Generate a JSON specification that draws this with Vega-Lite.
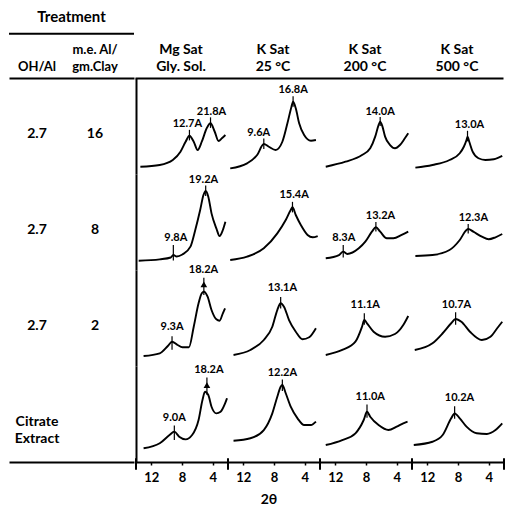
{
  "$schema": "https://vega.github.io/schema/vega-lite/v6.json",
  "padding": {"left": 8, "top": 0, "right": 0, "bottom": 0},
  "background": "white",
  "config": {
    "font": "Lato",
    "view": {"stroke": null},
    "concat": {"spacing": 0},
    "facet": {"spacing": 0},
    "text": {"font": "Lato", "fontWeight": "bold", "color": "black"},
    "axis": {"domainColor": "black", "tickColor": "black", "labelColor": "black", "grid": false}
  },
  "title": {"text": "2θ", "orient": "bottom", "anchor": "middle", "dx": 12, "fontSize": 14, "font": "Lato", "fontWeight": "bold", "offset": 9, "color": "black"},
  "spacing": 0,
  "vconcat": [
    {
      "spacing": 0,
      "hconcat": [
        {
          "width": 125,
          "height": 78,
          "layer": [
            {
              "data": {"values": [{"ln": "t", "s": "Treatment"}]},
              "mark": {"type": "text", "fontSize": 15},
              "encoding": {
                "y": {"field": "ln", "type": "nominal", "scale": {"type": "point", "domain": ["t", "line", "h1", "h2"], "padding": 0.835, "align": 0.61}, "axis": null},
                "text": {"field": "s"}
              }
            },
            {
              "data": {"values": [{"ln": "line"}]},
              "mark": {"type": "rule", "strokeWidth": 2, "color": "black"},
              "encoding": {"y": {"field": "ln", "type": "nominal"}}
            },
            {
              "data": {"values": [
                {"col": "OH/Al", "ln": "h2", "s": "OH/Al"},
                {"col": "me", "ln": "h1", "s": "m.e. Al/"},
                {"col": "me", "ln": "h2", "s": "gm.Clay"}
              ]},
              "mark": {"type": "text", "fontSize": 13},
              "encoding": {
                "x": {"field": "col", "type": "nominal", "scale": {"type": "point", "domain": ["OH/Al", "me"], "padding": 0.578, "align": 0.418}, "axis": {"orient": "bottom", "labels": false, "ticks": false, "title": null, "domain": true, "domainWidth": 2}},
                "y": {"field": "ln", "type": "nominal"},
                "text": {"field": "s"}
              }
            }
          ]
        },
        {
          "width": 368,
          "height": 78,
          "data": {"values": [
            {"c": "Mg", "ln": "h1", "s": "Mg Sat"},
            {"c": "Mg", "ln": "h2", "s": "Gly. Sol."},
            {"c": "K25", "ln": "h1", "s": "K Sat"},
            {"c": "K25", "ln": "h2", "s": "25 °C"},
            {"c": "K200", "ln": "h1", "s": "K Sat"},
            {"c": "K200", "ln": "h2", "s": "200 °C"},
            {"c": "K500", "ln": "h1", "s": "K Sat"},
            {"c": "K500", "ln": "h2", "s": "500 °C"}
          ]},
          "mark": {"type": "text", "fontSize": 14},
          "encoding": {
            "x": {"field": "c", "type": "nominal", "scale": {"type": "band", "domain": ["Mg", "K25", "K200", "K500"], "paddingInner": 0, "paddingOuter": 0}, "axis": {"orient": "bottom", "labels": false, "ticks": false, "title": null, "domainWidth": 2}},
            "y": {"field": "ln", "type": "nominal", "scale": {"type": "point", "domain": ["t", "line", "h1", "h2"], "padding": 0.835, "align": 0.61}, "axis": null},
            "text": {"field": "s"}
          }
        }
      ]
    },
    {
      "spacing": 0,
      "hconcat": [
        {
          "width": 125,
          "height": 384,
          "data": {"values": [
            {"t": "2.7/16", "col": "OH/Al", "s": "2.7"},
            {"t": "2.7/16", "col": "me", "s": "16"},
            {"t": "2.7/8", "col": "OH/Al", "s": "2.7"},
            {"t": "2.7/8", "col": "me", "s": "8"},
            {"t": "2.7/2", "col": "OH/Al", "s": "2.7"},
            {"t": "2.7/2", "col": "me", "s": "2"},
            {"t": "Citrate", "col": "OH/Al", "s": "Citrate\nExtract"}
          ]},
          "mark": {"type": "text", "fontSize": 14, "lineBreak": "\n", "lineHeight": 17},
          "encoding": {
            "x": {"field": "col", "type": "nominal", "scale": {"type": "point", "domain": ["OH/Al", "me"], "padding": 0.578, "align": 0.418}, "axis": {"orient": "bottom", "labels": false, "ticks": false, "title": null, "domainWidth": 2}},
            "y": {"field": "t", "type": "nominal", "bandPosition": 0.58, "scale": {"type": "band", "domain": ["2.7/16", "2.7/8", "2.7/2", "Citrate"], "paddingInner": 0, "paddingOuter": 0}, "axis": null},
            "text": {"field": "s"}
          }
        },
        {
          "bounds": "flush",
          "data": {"values": [
            {"t":"2.7/16","c":"Mg","k":"c","x":13.43,"y":7.6},
            {"t":"2.7/16","c":"Mg","k":"c","x":10.9,"y":9.4},
            {"t":"2.7/16","c":"Mg","k":"c","x":9.2,"y":14.6},
            {"t":"2.7/16","c":"Mg","k":"c","x":8.2,"y":23.2},
            {"t":"2.7/16","c":"Mg","k":"c","x":7.53,"y":33.6},
            {"t":"2.7/16","c":"Mg","k":"c","x":7.03,"y":39.9},
            {"t":"2.7/16","c":"Mg","k":"c","x":6.47,"y":33.6},
            {"t":"2.7/16","c":"Mg","k":"c","x":5.96,"y":25},
            {"t":"2.7/16","c":"Mg","k":"c","x":5.42,"y":33.6},
            {"t":"2.7/16","c":"Mg","k":"c","x":4.78,"y":47.6},
            {"t":"2.7/16","c":"Mg","k":"c","x":4.28,"y":52.8},
            {"t":"2.7/16","c":"Mg","k":"c","x":3.73,"y":44},
            {"t":"2.7/16","c":"Mg","k":"c","x":3.23,"y":34.4},
            {"t":"2.7/16","c":"Mg","k":"c","x":2.8,"y":37.2},
            {"t":"2.7/16","c":"Mg","k":"c","x":2.34,"y":40.6},
            {"t":"2.7/16","c":"K25","k":"c","x":13.71,"y":5.9},
            {"t":"2.7/16","c":"K25","k":"c","x":11.51,"y":11.1},
            {"t":"2.7/16","c":"K25","k":"c","x":10.2,"y":19.8},
            {"t":"2.7/16","c":"K25","k":"c","x":9.33,"y":31.25},
            {"t":"2.7/16","c":"K25","k":"c","x":8.67,"y":28.4},
            {"t":"2.7/16","c":"K25","k":"c","x":7.79,"y":25},
            {"t":"2.7/16","c":"K25","k":"c","x":6.91,"y":33.6},
            {"t":"2.7/16","c":"K25","k":"c","x":6.25,"y":52.8},
            {"t":"2.7/16","c":"K25","k":"c","x":5.72,"y":70.1},
            {"t":"2.7/16","c":"K25","k":"c","x":5.51,"y":75.3},
            {"t":"2.7/16","c":"K25","k":"c","x":5.16,"y":68.4},
            {"t":"2.7/16","c":"K25","k":"c","x":4.72,"y":52.8},
            {"t":"2.7/16","c":"K25","k":"c","x":4.07,"y":40.6},
            {"t":"2.7/16","c":"K25","k":"c","x":3.18,"y":34.7},
            {"t":"2.7/16","c":"K25","k":"c","x":2.53,"y":35.4},
            {"t":"2.7/16","c":"K200","k":"c","x":13.25,"y":7.6},
            {"t":"2.7/16","c":"K200","k":"c","x":10.67,"y":12.8},
            {"t":"2.7/16","c":"K200","k":"c","x":8.52,"y":19.8},
            {"t":"2.7/16","c":"K200","k":"c","x":7.45,"y":26.8},
            {"t":"2.7/16","c":"K200","k":"c","x":6.8,"y":38.9},
            {"t":"2.7/16","c":"K200","k":"c","x":6.36,"y":51},
            {"t":"2.7/16","c":"K200","k":"c","x":6.15,"y":54.5},
            {"t":"2.7/16","c":"K200","k":"c","x":5.85,"y":49.3},
            {"t":"2.7/16","c":"K200","k":"c","x":5.51,"y":38.9},
            {"t":"2.7/16","c":"K200","k":"c","x":4.86,"y":30.2},
            {"t":"2.7/16","c":"K200","k":"c","x":4.22,"y":26.8},
            {"t":"2.7/16","c":"K200","k":"c","x":3.57,"y":30.2},
            {"t":"2.7/16","c":"K200","k":"c","x":2.93,"y":37.2},
            {"t":"2.7/16","c":"K200","k":"c","x":2.49,"y":42.4},
            {"t":"2.7/16","c":"K500","k":"c","x":13.56,"y":6.6},
            {"t":"2.7/16","c":"K500","k":"c","x":11.33,"y":9.4},
            {"t":"2.7/16","c":"K500","k":"c","x":9.11,"y":14.6},
            {"t":"2.7/16","c":"K500","k":"c","x":7.77,"y":21.6},
            {"t":"2.7/16","c":"K500","k":"c","x":7.24,"y":28.4},
            {"t":"2.7/16","c":"K500","k":"c","x":6.89,"y":35.4},
            {"t":"2.7/16","c":"K500","k":"c","x":6.76,"y":38.9},
            {"t":"2.7/16","c":"K500","k":"c","x":6.53,"y":33.6},
            {"t":"2.7/16","c":"K500","k":"c","x":6.09,"y":23.2},
            {"t":"2.7/16","c":"K500","k":"c","x":5.33,"y":16.4},
            {"t":"2.7/16","c":"K500","k":"c","x":4.44,"y":14.6},
            {"t":"2.7/16","c":"K500","k":"c","x":3.33,"y":15.3},
            {"t":"2.7/16","c":"K500","k":"c","x":2.23,"y":18.8},

            {"t":"2.7/8","c":"Mg","k":"c","x":13.65,"y":9.7},
            {"t":"2.7/8","c":"Mg","k":"c","x":10.9,"y":11.1},
            {"t":"2.7/8","c":"Mg","k":"c","x":9.47,"y":13},
            {"t":"2.7/8","c":"Mg","k":"c","x":9.13,"y":15.6},
            {"t":"2.7/8","c":"Mg","k":"c","x":8.7,"y":14},
            {"t":"2.7/8","c":"Mg","k":"c","x":7.95,"y":16.1},
            {"t":"2.7/8","c":"Mg","k":"c","x":6.9,"y":24.3},
            {"t":"2.7/8","c":"Mg","k":"c","x":6.27,"y":41.7},
            {"t":"2.7/8","c":"Mg","k":"c","x":5.63,"y":62.5},
            {"t":"2.7/8","c":"Mg","k":"c","x":5.2,"y":78.1},
            {"t":"2.7/8","c":"Mg","k":"c","x":4.91,"y":82.3},
            {"t":"2.7/8","c":"Mg","k":"c","x":4.57,"y":76.4},
            {"t":"2.7/8","c":"Mg","k":"c","x":4.15,"y":59},
            {"t":"2.7/8","c":"Mg","k":"c","x":3.52,"y":43.4},
            {"t":"2.7/8","c":"Mg","k":"c","x":3.1,"y":35.4},
            {"t":"2.7/8","c":"Mg","k":"c","x":2.67,"y":41.7},
            {"t":"2.7/8","c":"Mg","k":"c","x":2.34,"y":50.3},
            {"t":"2.7/8","c":"K25","k":"c","x":13.71,"y":10.4},
            {"t":"2.7/8","c":"K25","k":"c","x":11.51,"y":13.9},
            {"t":"2.7/8","c":"K25","k":"c","x":9.33,"y":22.6},
            {"t":"2.7/8","c":"K25","k":"c","x":7.57,"y":38.2},
            {"t":"2.7/8","c":"K25","k":"c","x":6.47,"y":52.1},
            {"t":"2.7/8","c":"K25","k":"c","x":5.82,"y":62.5},
            {"t":"2.7/8","c":"K25","k":"c","x":5.59,"y":65.3},
            {"t":"2.7/8","c":"K25","k":"c","x":5.16,"y":57.3},
            {"t":"2.7/8","c":"K25","k":"c","x":4.5,"y":46.9},
            {"t":"2.7/8","c":"K25","k":"c","x":3.62,"y":36.5},
            {"t":"2.7/8","c":"K25","k":"c","x":2.96,"y":34.1},
            {"t":"2.7/8","c":"K25","k":"c","x":2.3,"y":35.4},
            {"t":"2.7/8","c":"K200","k":"c","x":13.25,"y":12.2},
            {"t":"2.7/8","c":"K200","k":"c","x":11.52,"y":15.6},
            {"t":"2.7/8","c":"K200","k":"c","x":10.97,"y":19.1},
            {"t":"2.7/8","c":"K200","k":"c","x":10.45,"y":16.7},
            {"t":"2.7/8","c":"K200","k":"c","x":8.94,"y":22.6},
            {"t":"2.7/8","c":"K200","k":"c","x":8.09,"y":29.5},
            {"t":"2.7/8","c":"K200","k":"c","x":7.23,"y":39.9},
            {"t":"2.7/8","c":"K200","k":"c","x":6.71,"y":44.5},
            {"t":"2.7/8","c":"K200","k":"c","x":6.15,"y":39.9},
            {"t":"2.7/8","c":"K200","k":"c","x":5.29,"y":33},
            {"t":"2.7/8","c":"K200","k":"c","x":4.43,"y":33},
            {"t":"2.7/8","c":"K200","k":"c","x":3.35,"y":36.5},
            {"t":"2.7/8","c":"K200","k":"c","x":2.49,"y":39.9},
            {"t":"2.7/8","c":"K500","k":"c","x":13.56,"y":14.6},
            {"t":"2.7/8","c":"K500","k":"c","x":11.33,"y":15.6},
            {"t":"2.7/8","c":"K500","k":"c","x":9.11,"y":20.8},
            {"t":"2.7/8","c":"K500","k":"c","x":7.77,"y":31.25},
            {"t":"2.7/8","c":"K500","k":"c","x":6.89,"y":41.7},
            {"t":"2.7/8","c":"K500","k":"c","x":6.67,"y":42.7},
            {"t":"2.7/8","c":"K500","k":"c","x":6,"y":39.9},
            {"t":"2.7/8","c":"K500","k":"c","x":4.89,"y":34.7},
            {"t":"2.7/8","c":"K500","k":"c","x":4,"y":32},
            {"t":"2.7/8","c":"K500","k":"c","x":3.11,"y":34.1},
            {"t":"2.7/8","c":"K500","k":"c","x":2.23,"y":37.5},

            {"t":"2.7/2","c":"Mg","k":"c","x":13.01,"y":10.4},
            {"t":"2.7/2","c":"Mg","k":"c","x":10.9,"y":13.2},
            {"t":"2.7/2","c":"Mg","k":"c","x":9.85,"y":20.8},
            {"t":"2.7/2","c":"Mg","k":"c","x":9.3,"y":25.3},
            {"t":"2.7/2","c":"Mg","k":"c","x":8.58,"y":21.9},
            {"t":"2.7/2","c":"Mg","k":"c","x":7.95,"y":19.5},
            {"t":"2.7/2","c":"Mg","k":"c","x":7.1,"y":19.5},
            {"t":"2.7/2","c":"Mg","k":"c","x":6.47,"y":40.9},
            {"t":"2.7/2","c":"Mg","k":"c","x":5.84,"y":65.3},
            {"t":"2.7/2","c":"Mg","k":"c","x":5.42,"y":75.7},
            {"t":"2.7/2","c":"Mg","k":"c","x":5.13,"y":77.4},
            {"t":"2.7/2","c":"Mg","k":"c","x":4.66,"y":72.2},
            {"t":"2.7/2","c":"Mg","k":"c","x":4.15,"y":58.3},
            {"t":"2.7/2","c":"Mg","k":"c","x":3.52,"y":48.6},
            {"t":"2.7/2","c":"Mg","k":"c","x":3.1,"y":47.2},
            {"t":"2.7/2","c":"Mg","k":"c","x":2.67,"y":54.9},
            {"t":"2.7/2","c":"Mg","k":"c","x":2.38,"y":60.1},
            {"t":"2.7/2","c":"K25","k":"c","x":13.28,"y":11.5},
            {"t":"2.7/2","c":"K25","k":"c","x":11.08,"y":16.7},
            {"t":"2.7/2","c":"K25","k":"c","x":9.33,"y":27.1},
            {"t":"2.7/2","c":"K25","k":"c","x":8.22,"y":40.9},
            {"t":"2.7/2","c":"K25","k":"c","x":7.57,"y":58.3},
            {"t":"2.7/2","c":"K25","k":"c","x":7.13,"y":65.3},
            {"t":"2.7/2","c":"K25","k":"c","x":6.7,"y":61.8},
            {"t":"2.7/2","c":"K25","k":"c","x":6.04,"y":47.9},
            {"t":"2.7/2","c":"K25","k":"c","x":5.16,"y":35.7},
            {"t":"2.7/2","c":"K25","k":"c","x":4.28,"y":27.8},
            {"t":"2.7/2","c":"K25","k":"c","x":3.41,"y":29.9},
            {"t":"2.7/2","c":"K25","k":"c","x":2.53,"y":39.3},
            {"t":"2.7/2","c":"K200","k":"c","x":13.25,"y":11.5},
            {"t":"2.7/2","c":"K200","k":"c","x":11.1,"y":16.7},
            {"t":"2.7/2","c":"K200","k":"c","x":9.38,"y":25.3},
            {"t":"2.7/2","c":"K200","k":"c","x":8.52,"y":40.9},
            {"t":"2.7/2","c":"K200","k":"c","x":8.22,"y":47.9},
            {"t":"2.7/2","c":"K200","k":"c","x":7.87,"y":44.5},
            {"t":"2.7/2","c":"K200","k":"c","x":7.01,"y":35.7},
            {"t":"2.7/2","c":"K200","k":"c","x":5.51,"y":30.5},
            {"t":"2.7/2","c":"K200","k":"c","x":4.22,"y":33.3},
            {"t":"2.7/2","c":"K200","k":"c","x":3.14,"y":42.7},
            {"t":"2.7/2","c":"K200","k":"c","x":2.49,"y":52.1},
            {"t":"2.7/2","c":"K500","k":"c","x":13.64,"y":16.7},
            {"t":"2.7/2","c":"K500","k":"c","x":11.33,"y":23.6},
            {"t":"2.7/2","c":"K500","k":"c","x":10,"y":34.1},
            {"t":"2.7/2","c":"K500","k":"c","x":8.89,"y":44.5},
            {"t":"2.7/2","c":"K500","k":"c","x":8.31,"y":49},
            {"t":"2.7/2","c":"K500","k":"c","x":7.56,"y":46.1},
            {"t":"2.7/2","c":"K500","k":"c","x":6.44,"y":35.7},
            {"t":"2.7/2","c":"K500","k":"c","x":4.89,"y":27.1},
            {"t":"2.7/2","c":"K500","k":"c","x":3.77,"y":30.5},
            {"t":"2.7/2","c":"K500","k":"c","x":2.89,"y":39.3},
            {"t":"2.7/2","c":"K500","k":"c","x":2.23,"y":46.1},

            {"t":"Citrate","c":"Mg","k":"c","x":13.01,"y":14.3},
            {"t":"Citrate","c":"Mg","k":"c","x":10.9,"y":19.5},
            {"t":"Citrate","c":"Mg","k":"c","x":9.63,"y":28.1},
            {"t":"Citrate","c":"Mg","k":"c","x":9,"y":31.6},
            {"t":"Citrate","c":"Mg","k":"c","x":8.37,"y":26.4},
            {"t":"Citrate","c":"Mg","k":"c","x":7.53,"y":23.6},
            {"t":"Citrate","c":"Mg","k":"c","x":6.68,"y":28.1},
            {"t":"Citrate","c":"Mg","k":"c","x":5.84,"y":43.75},
            {"t":"Citrate","c":"Mg","k":"c","x":5.33,"y":64.6},
            {"t":"Citrate","c":"Mg","k":"c","x":5,"y":73.2},
            {"t":"Citrate","c":"Mg","k":"c","x":4.57,"y":69.8},
            {"t":"Citrate","c":"Mg","k":"c","x":4.15,"y":57.6},
            {"t":"Citrate","c":"Mg","k":"c","x":3.52,"y":50.7},
            {"t":"Citrate","c":"Mg","k":"c","x":2.97,"y":52.4},
            {"t":"Citrate","c":"Mg","k":"c","x":2.38,"y":61.1},
            {"t":"Citrate","c":"Mg","k":"c","x":2.13,"y":66.4},
            {"t":"Citrate","c":"K25","k":"c","x":13.28,"y":22.2},
            {"t":"Citrate","c":"K25","k":"c","x":11.08,"y":24.7},
            {"t":"Citrate","c":"K25","k":"c","x":9.33,"y":33.3},
            {"t":"Citrate","c":"K25","k":"c","x":8.22,"y":50.7},
            {"t":"Citrate","c":"K25","k":"c","x":7.57,"y":68},
            {"t":"Citrate","c":"K25","k":"c","x":7.13,"y":78.4},
            {"t":"Citrate","c":"K25","k":"c","x":6.91,"y":80.2},
            {"t":"Citrate","c":"K25","k":"c","x":6.47,"y":71.6},
            {"t":"Citrate","c":"K25","k":"c","x":5.82,"y":57.6},
            {"t":"Citrate","c":"K25","k":"c","x":4.93,"y":45.5},
            {"t":"Citrate","c":"K25","k":"c","x":4.07,"y":38.5},
            {"t":"Citrate","c":"K25","k":"c","x":3.18,"y":38.5},
            {"t":"Citrate","c":"K25","k":"c","x":2.53,"y":42},
            {"t":"Citrate","c":"K200","k":"c","x":13.25,"y":17.7},
            {"t":"Citrate","c":"K200","k":"c","x":11.1,"y":22.9},
            {"t":"Citrate","c":"K200","k":"c","x":9.38,"y":29.9},
            {"t":"Citrate","c":"K200","k":"c","x":8.3,"y":43.75},
            {"t":"Citrate","c":"K200","k":"c","x":7.87,"y":52.4},
            {"t":"Citrate","c":"K200","k":"c","x":7.45,"y":47.2},
            {"t":"Citrate","c":"K200","k":"c","x":6.36,"y":38.5},
            {"t":"Citrate","c":"K200","k":"c","x":5.07,"y":33.3},
            {"t":"Citrate","c":"K200","k":"c","x":4,"y":36.8},
            {"t":"Citrate","c":"K200","k":"c","x":3.14,"y":40.3},
            {"t":"Citrate","c":"K200","k":"c","x":2.58,"y":42},
            {"t":"Citrate","c":"K500","k":"c","x":13.77,"y":17.7},
            {"t":"Citrate","c":"K500","k":"c","x":11.33,"y":21.1},
            {"t":"Citrate","c":"K500","k":"c","x":10,"y":28.1},
            {"t":"Citrate","c":"K500","k":"c","x":8.89,"y":45.5},
            {"t":"Citrate","c":"K500","k":"c","x":8.44,"y":50.7},
            {"t":"Citrate","c":"K500","k":"c","x":7.77,"y":45.5},
            {"t":"Citrate","c":"K500","k":"c","x":6.89,"y":36.8},
            {"t":"Citrate","c":"K500","k":"c","x":5.56,"y":29.9},
            {"t":"Citrate","c":"K500","k":"c","x":4.23,"y":29.2},
            {"t":"Citrate","c":"K500","k":"c","x":3.11,"y":33.3},
            {"t":"Citrate","c":"K500","k":"c","x":2.23,"y":40.3},

            {"t":"2.7/16","c":"Mg","k":"p","x":7.03,"y":35,"y2":46},
            {"t":"2.7/16","c":"Mg","k":"p","x":4.28,"y":48,"y2":59},
            {"t":"2.7/16","c":"K25","k":"p","x":9.33,"y":26,"y2":37},
            {"t":"2.7/16","c":"K25","k":"p","x":5.51,"y":70,"y2":81},
            {"t":"2.7/16","c":"K200","k":"p","x":6.15,"y":50,"y2":59.5},
            {"t":"2.7/16","c":"K500","k":"p","x":6.76,"y":34,"y2":45},
            {"t":"2.7/8","c":"Mg","k":"p","x":9.13,"y":10,"y2":26},
            {"t":"2.7/8","c":"Mg","k":"p","x":4.91,"y":77,"y2":88},
            {"t":"2.7/8","c":"K25","k":"p","x":5.59,"y":60,"y2":71},
            {"t":"2.7/8","c":"K200","k":"p","x":10.97,"y":13,"y2":26},
            {"t":"2.7/8","c":"K200","k":"p","x":6.71,"y":40,"y2":50},
            {"t":"2.7/8","c":"K500","k":"p","x":6.67,"y":38,"y2":48},
            {"t":"2.7/2","c":"Mg","k":"p","x":9.3,"y":17,"y2":31},
            {"t":"2.7/2","c":"Mg","k":"p","x":5.15,"y":74,"y2":92},
            {"t":"2.7/2","c":"K25","k":"p","x":7.13,"y":60,"y2":72},
            {"t":"2.7/2","c":"K200","k":"p","x":8.22,"y":43,"y2":55},
            {"t":"2.7/2","c":"K500","k":"p","x":8.31,"y":43,"y2":56},
            {"t":"Citrate","c":"Mg","k":"p","x":9,"y":23,"y2":38},
            {"t":"Citrate","c":"Mg","k":"p","x":4.75,"y":70,"y2":88},
            {"t":"Citrate","c":"K25","k":"p","x":6.91,"y":74,"y2":86},
            {"t":"Citrate","c":"K200","k":"p","x":7.87,"y":46,"y2":60},
            {"t":"Citrate","c":"K500","k":"p","x":8.44,"y":45,"y2":58},

            {"t":"Citrate","c":"Mg","k":"b","x":14,"y":-8,"y2":4},
            {"t":"Citrate","c":"Mg","k":"b","x":2,"y":-8,"y2":4},
            {"t":"Citrate","c":"K25","k":"b","x":2,"y":-8,"y2":4},
            {"t":"Citrate","c":"K200","k":"b","x":2,"y":-8,"y2":4},
            {"t":"Citrate","c":"K500","k":"b","x":2,"y":-8,"y2":4},

            {"t":"2.7/16","c":"Mg","k":"l","x":7.3,"y":52,"s":"12.7A"},
            {"t":"2.7/16","c":"Mg","k":"l","x":4.15,"y":64.5,"s":"21.8A"},
            {"t":"2.7/16","c":"K25","k":"l","x":10.0,"y":43,"s":"9.6A"},
            {"t":"2.7/16","c":"K25","k":"l","x":5.5,"y":87.5,"s":"16.8A"},
            {"t":"2.7/16","c":"K200","k":"l","x":6.15,"y":64.5,"s":"14.0A"},
            {"t":"2.7/16","c":"K500","k":"l","x":6.5,"y":51.5,"s":"13.0A"},
            {"t":"2.7/8","c":"Mg","k":"l","x":8.8,"y":33,"s":"9.8A"},
            {"t":"2.7/8","c":"Mg","k":"l","x":5.2,"y":94,"s":"19.2A"},
            {"t":"2.7/8","c":"K25","k":"l","x":5.38,"y":78,"s":"15.4A"},
            {"t":"2.7/8","c":"K200","k":"l","x":10.9,"y":33,"s":"8.3A"},
            {"t":"2.7/8","c":"K200","k":"l","x":6.1,"y":56,"s":"13.2A"},
            {"t":"2.7/8","c":"K500","k":"l","x":6.0,"y":54,"s":"12.3A"},
            {"t":"2.7/2","c":"Mg","k":"l","x":9.3,"y":41,"s":"9.3A"},
            {"t":"2.7/2","c":"Mg","k":"l","x":5.2,"y":100,"s":"18.2A"},
            {"t":"2.7/2","c":"K25","k":"l","x":6.9,"y":81,"s":"13.1A"},
            {"t":"2.7/2","c":"K200","k":"l","x":8.1,"y":63.5,"s":"11.1A"},
            {"t":"2.7/2","c":"K500","k":"l","x":8.2,"y":63.5,"s":"10.7A"},
            {"t":"Citrate","c":"Mg","k":"l","x":9.0,"y":45.5,"s":"9.0A"},
            {"t":"Citrate","c":"Mg","k":"l","x":4.5,"y":96,"s":"18.2A"},
            {"t":"Citrate","c":"K25","k":"l","x":6.9,"y":92.4,"s":"12.2A"},
            {"t":"Citrate","c":"K200","k":"l","x":7.45,"y":67.4,"s":"11.0A"},
            {"t":"Citrate","c":"K500","k":"l","x":7.8,"y":66.4,"s":"10.2A"},

            {"t":"2.7/2","c":"Mg","k":"a","x":5.15,"y":85},
            {"t":"Citrate","c":"Mg","k":"a","x":4.75,"y":80}
          ]},
          "facet": {
            "row": {"field": "t", "type": "nominal", "sort": ["2.7/16", "2.7/8", "2.7/2", "Citrate"], "header": {"labels": false, "title": null}},
            "column": {"field": "c", "type": "nominal", "sort": ["Mg", "K25", "K200", "K500"], "header": {"labels": false, "title": null}}
          },
          "spacing": {"row": 0, "column": 0},
          "spec": {
            "width": 92,
            "height": 96,
            "layer": [
              {
                "transform": [{"filter": {"field": "k", "equal": "c"}}],
                "mark": {"type": "line", "color": "black", "strokeWidth": 1.9, "interpolate": "monotone"},
                "encoding": {
                  "x": {"field": "x", "type": "quantitative", "scale": {"domain": [2, 14], "reverse": true, "nice": false, "zero": false},
                    "axis": {"values": [12, 10, 8, 6, 4], "labelExpr": "(datum.value == 12 || datum.value == 8 || datum.value == 4) ? datum.label : ''",
                      "tickSize": 3, "tickWidth": 1.5, "domainWidth": 2, "labelFontSize": 13, "labelFont": "Lato", "labelFontWeight": "bold",
                      "labelPadding": 6, "title": null, "labelFlush": false, "labelOverlap": false}},
                  "y": {"field": "y", "type": "quantitative", "scale": {"domain": [0, 100], "nice": false, "zero": false},
                    "axis": {"orient": "left", "labels": false, "ticks": false, "title": null, "domain": true, "domainWidth": 2}}
                }
              },
              {
                "transform": [{"filter": {"field": "k", "equal": "p"}}],
                "mark": {"type": "rule", "color": "black", "strokeWidth": 1.2},
                "encoding": {
                  "x": {"field": "x", "type": "quantitative"},
                  "y": {"field": "y", "type": "quantitative"},
                  "y2": {"field": "y2"}
                }
              },
              {
                "transform": [{"filter": {"field": "k", "equal": "b"}}],
                "mark": {"type": "rule", "color": "black", "strokeWidth": 2},
                "encoding": {
                  "x": {"field": "x", "type": "quantitative"},
                  "y": {"field": "y", "type": "quantitative"},
                  "y2": {"field": "y2"}
                }
              },
              {
                "transform": [{"filter": {"field": "k", "equal": "l"}}],
                "mark": {"type": "text", "fontSize": 11, "fontWeight": "bold"},
                "encoding": {
                  "x": {"field": "x", "type": "quantitative"},
                  "y": {"field": "y", "type": "quantitative"},
                  "text": {"field": "s"}
                }
              },
              {
                "transform": [{"filter": {"field": "k", "equal": "a"}}],
                "mark": {"type": "point", "shape": "triangle-up", "filled": true, "color": "black", "size": 45, "opacity": 1},
                "encoding": {
                  "x": {"field": "x", "type": "quantitative"},
                  "y": {"field": "y", "type": "quantitative"}
                }
              }
            ]
          }
        }
      ]
    }
  ]
}
